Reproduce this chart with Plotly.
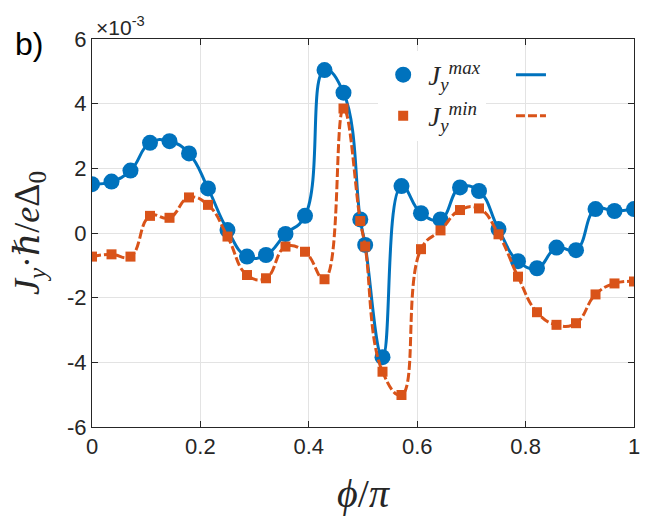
import plotly.graph_objects as go

# phi / pi positions of the samples
phi = [0, 0.036, 0.071, 0.107, 0.143, 0.179, 0.214, 0.25, 0.286, 0.321,
       0.357, 0.393, 0.429, 0.464, 0.495, 0.504, 0.536, 0.571, 0.607, 0.643,
       0.679, 0.714, 0.75, 0.786, 0.821, 0.857, 0.893, 0.929, 0.964, 1.0]

# J_y values in units of 1e-3
jy_max = [1.51, 1.59, 1.93, 2.79, 2.84, 2.46, 1.38, 0.09, -0.73, -0.68,
          -0.03, 0.53, 5.04, 4.34, 0.42, -0.37, -3.84, 1.45, 0.61, 0.42,
          1.41, 1.30, 0.12, -0.87, -1.09, -0.45, -0.53, 0.74, 0.68, 0.74]
jy_min = [-0.73, -0.66, -0.73, 0.53, 0.47, 1.10, 0.87, -0.11, -1.30, -1.40,
          -0.42, -0.58, -1.43, 3.85, 0.37, -0.42, -4.29, -5.01, -0.50, 0.08,
          0.71, 0.76, -0.04, -1.35, -2.45, -2.84, -2.79, -1.90, -1.56, -1.50]

x_ticks = [0, 0.2, 0.4, 0.6, 0.8, 1]
x_ticklabels = ["0", "0.2", "0.4", "0.6", "0.8", "1"]
y_ticks = [-6, -4, -2, 0, 2, 4, 6]
y_ticklabels = ["-6", "-4", "-2", "0", "2", "4", "6"]

BLUE = "#0072BD"
ORANGE = "#D95319"
SERIF = "Liberation Serif, DejaVu Serif, serif"
SANS = "Liberation Sans, Arial, sans-serif"

fig = go.Figure()
fig.add_trace(go.Scatter(x=phi, y=jy_max, mode="lines",
                         line=dict(color=BLUE, width=3, shape="spline", smoothing=1.3),
                         name=" ", legend="legend2", legendgroup="a2", showlegend=True))
fig.add_trace(go.Scatter(x=phi, y=jy_max, mode="markers",
                         marker=dict(color=BLUE, size=16, symbol="circle", line=dict(width=0)),
                         name="<i>J</i><sub><i>y</i></sub><sup><i>max</i></sup>", legend="legend", legendgroup="a1"))
fig.add_trace(go.Scatter(x=phi, y=jy_min, mode="lines",
                         line=dict(color=ORANGE, width=3, dash="9px,3px", shape="spline", smoothing=1.3),
                         name=" ", legend="legend2", legendgroup="b2", showlegend=True))
fig.add_trace(go.Scatter(x=phi, y=jy_min, mode="markers",
                         marker=dict(color=ORANGE, size=10, symbol="square", line=dict(width=0)),
                         name="<i>J</i><sub><i>y</i></sub><sup><i>min</i></sup>", legend="legend", legendgroup="b1"))

axis_common = dict(showline=True, linecolor="#262626", linewidth=1, mirror="ticks",
                   ticks="inside", ticklen=6, tickcolor="#262626",
                   showgrid=True, gridcolor="#e3e3e3", gridwidth=1, zeroline=False,
                   tickfont=dict(family=SANS, size=22, color="#262626"))

fig.update_layout(
    width=657, height=520,
    margin=dict(l=92, r=23, t=39, b=93),
    paper_bgcolor="white", plot_bgcolor="white",
    xaxis=dict(range=[0, 1], tickvals=x_ticks, ticktext=x_ticklabels,
               title=dict(text="<i>ϕ</i>/<i>π</i>", font=dict(family=SERIF, size=40, color="#262626"), standoff=20),
               **axis_common),
    yaxis=dict(range=[-6, 6], tickvals=y_ticks, ticktext=y_ticklabels,
               title=dict(text="<i>J</i><sub><i>y</i></sub>·<i>ℏ</i>/<i>e</i>Δ<sub>0</sub>",
                          font=dict(family=SERIF, size=36, color="#262626"), standoff=16),
               **axis_common),
    legend=dict(x=0.528, y=0.97, xanchor="left", yanchor="top", bgcolor="white", borderwidth=0,
                font=dict(family=SERIF, size=27, color="#262626"), itemsizing="trace",
                tracegroupgap=3, itemwidth=40),
    legend2=dict(x=0.773, y=0.97, xanchor="left", yanchor="top", bgcolor="rgba(255,255,255,0)", borderwidth=0,
                 font=dict(family=SERIF, size=27, color="#262626"), tracegroupgap=3),
    annotations=[
        dict(text="b)", xref="paper", yref="paper", x=-0.146, y=0.987, xanchor="left", yanchor="middle",
             showarrow=False, font=dict(family=SANS, size=32, color="black")),
        dict(text="×10<sup>-3</sup>", xref="paper", yref="paper", x=0.004, y=0.995, xanchor="left", yanchor="bottom",
             showarrow=False, font=dict(family=SANS, size=21, color="#262626")),
    ],
)

fig.write_html("out.html")
